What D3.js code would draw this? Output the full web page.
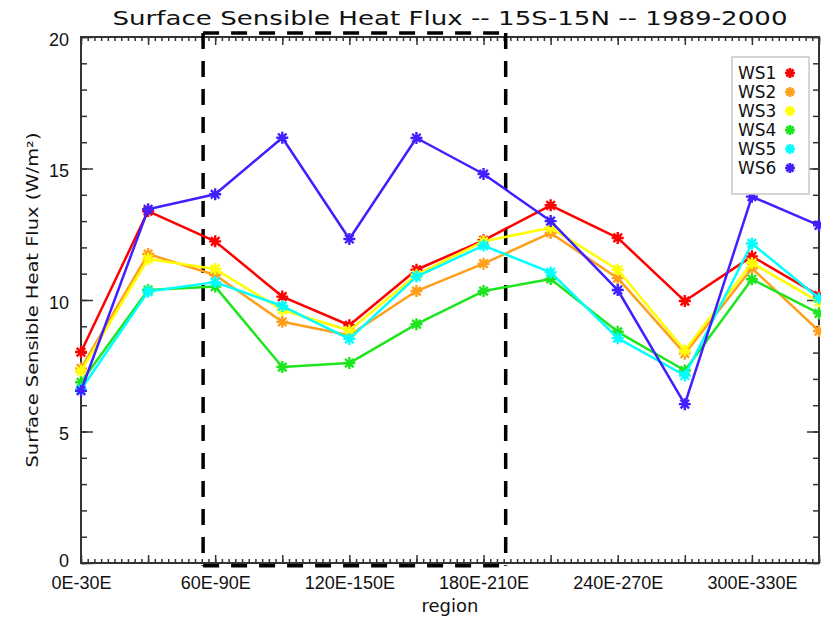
<!DOCTYPE html>
<html>
<head>
<meta charset="utf-8">
<script src="https://cdn.jsdelivr.net/npm/d3@7"></script>
<style>
  html, body { margin: 0; padding: 0; background: #fff; }
  svg { display: block; font-family: "DejaVu Sans", sans-serif; }
</style>
</head>
<body>
<svg id="chart" width="821" height="619"></svg>
<script>
// Regions along the equatorial band (30-degree longitude bins)
const regions = ["0E-30E", "30E-60E", "60E-90E", "90E-120E", "120E-150E", "150E-180E",
                 "180E-210E", "210E-240E", "240E-270E", "270E-300E", "300E-330E", "330E-360E"];
const seriesNames = ["WS1", "WS2", "WS3", "WS4", "WS5", "WS6"];
const seriesColors = ["#ff0000", "#ff9f1a", "#ffff00", "#1ee61e", "#00ffff", "#4020ff"];

// Surface sensible heat flux (W/m^2), one value per region
const ws1 = [8.02, 13.38, 12.23, 10.13, 9.04, 11.15, 12.27, 13.60, 12.36, 9.96, 11.66, 10.17];
const ws2 = [7.40, 11.75, 10.95, 9.17, 8.66, 10.34, 11.38, 12.55, 10.83, 7.96, 11.21, 8.82];
const ws3 = [7.30, 11.56, 11.18, 9.62, 8.84, 10.96, 12.23, 12.75, 11.15, 8.08, 11.41, 9.93];
const ws4 = [6.87, 10.38, 10.51, 7.45, 7.60, 9.08, 10.34, 10.80, 8.79, 7.32, 10.79, 9.49];
const ws5 = [6.60, 10.32, 10.68, 9.77, 8.52, 10.89, 12.07, 11.05, 8.55, 7.13, 12.15, 10.07];
const ws6 = [6.55, 13.45, 14.02, 16.17, 12.32, 16.16, 14.79, 13.00, 10.38, 6.04, 13.93, 12.84];
const seriesValues = [ws1, ws2, ws3, ws4, ws5, ws6];

// Y axis ticks
const yMajorTicks = [0, 5, 10, 15, 20];
const yMinorTicks = d3.range(0, 21, 1);

// Highlighted box (in region-index and flux units)
const boxX = [1.82, 6.33];
const boxY = [-0.1, 20.15];

const svg = d3.select("#chart");
const plotLeft = 81, plotRight = 819, plotTop = 37, plotBottom = 563;

const x = d3.scaleLinear().domain([0, regions.length - 1]).range([plotLeft, plotRight]);
const y = d3.scaleLinear().domain([0, 20]).range([plotBottom, plotTop]);

const axisColor = "#333";

// --- axes -------------------------------------------------------------
const xMinor = d3.range(0, regions.length - 1 + 1e-9, 0.1);

function styleAxis(g) {
  g.selectAll(".domain").remove();
  g.selectAll("line").attr("stroke", axisColor).attr("stroke-width", 1.5);
  g.selectAll("text").attr("fill", "#111");
}

// bottom minor + major
svg.append("g").attr("transform", `translate(0,${plotBottom})`)
  .call(d3.axisBottom(x).tickValues(xMinor).tickSize(-4).tickFormat(""))
  .call(styleAxis);
svg.append("g").attr("transform", `translate(0,${plotBottom})`)
  .call(d3.axisBottom(x).tickValues(d3.range(regions.length)).tickSize(-8)
        .tickPadding(11).tickFormat(i => i % 2 === 0 ? regions[i] : ""))
  .call(styleAxis)
  .selectAll("text").attr("font-size", 18).attr("dy", "0.85em");

// top minor + major
svg.append("g").attr("transform", `translate(0,${plotTop})`)
  .call(d3.axisTop(x).tickValues(xMinor).tickSize(-4).tickFormat(""))
  .call(styleAxis);
svg.append("g").attr("transform", `translate(0,${plotTop})`)
  .call(d3.axisTop(x).tickValues(d3.range(regions.length)).tickSize(-8).tickFormat(""))
  .call(styleAxis);

// left
svg.append("g").attr("transform", `translate(${plotLeft},0)`)
  .call(d3.axisLeft(y).tickValues(yMinorTicks).tickSize(-6).tickFormat(""))
  .call(styleAxis);
svg.append("g").attr("transform", `translate(${plotLeft},0)`)
  .call(d3.axisLeft(y).tickValues(yMajorTicks).tickSize(-12).tickPadding(12).tickFormat(d3.format("d")))
  .call(styleAxis)
  .selectAll("text").attr("font-size", 18).attr("dy", d => d === 0 ? "0.2em" : "0.45em");

// right
svg.append("g").attr("transform", `translate(${plotRight},0)`)
  .call(d3.axisRight(y).tickValues(yMinorTicks).tickSize(-6).tickFormat(""))
  .call(styleAxis);
svg.append("g").attr("transform", `translate(${plotRight},0)`)
  .call(d3.axisRight(y).tickValues(yMajorTicks).tickSize(-12).tickFormat(""))
  .call(styleAxis);

// frame
svg.append("rect")
  .attr("x", plotLeft).attr("y", plotTop)
  .attr("width", plotRight - plotLeft).attr("height", plotBottom - plotTop)
  .attr("fill", "none").attr("stroke", axisColor).attr("stroke-width", 2);

// --- dashed box -------------------------------------------------------
const dash = "16,12";
const bx0 = x(boxX[0]), bx1 = x(boxX[1]), by0 = y(boxY[1]), by1 = y(boxY[0]);
svg.append("g").attr("stroke", "#000").attr("fill", "none")
  .selectAll("line")
  .data([
    [bx0, by0, bx0, by1, 3.5],
    [bx1, by0, bx1, by1, 3.5],
    [bx0, by0, bx1, by0, 3.5],
    [bx0, by1, bx1, by1, 3.5]
  ])
  .join("line")
  .attr("x1", d => d[0]).attr("y1", d => d[1])
  .attr("x2", d => d[2]).attr("y2", d => d[3])
  .attr("stroke-width", d => d[4])
  .attr("stroke-dasharray", dash);

// --- series -----------------------------------------------------------
function asterisk(r) {
  const d = r * Math.SQRT1_2;
  return `M${-r},0L${r},0M0,${-r}L0,${r}M${-d},${-d}L${d},${d}M${-d},${d}L${d},${-d}`;
}

const line = d3.line().x((d, i) => x(i)).y(d => y(d));

seriesValues.forEach((vals, k) => {
  const g = svg.append("g");
  g.append("path").datum(vals)
    .attr("d", line)
    .attr("fill", "none")
    .attr("stroke", seriesColors[k])
    .attr("stroke-width", 2.5)
    .attr("stroke-linejoin", "round");
  g.selectAll("path.mark").data(vals).join("path")
    .attr("class", "mark")
    .attr("transform", (d, i) => `translate(${x(i)},${y(d)})`)
    .attr("d", asterisk(6))
    .attr("stroke", seriesColors[k])
    .attr("stroke-width", 2.4)
    .attr("fill", "none");
});

// --- legend -----------------------------------------------------------
const legend = svg.append("g");
legend.append("rect")
  .attr("x", 732).attr("y", 57).attr("width", 77).attr("height", 137)
  .attr("fill", "#fff").attr("stroke", "#c8c8c8").attr("stroke-width", 1.5);
seriesNames.forEach((name, k) => {
  const cy = 73 + k * 19;
  legend.append("text")
    .attr("x", 738).attr("y", cy).attr("dy", "0.36em")
    .attr("font-size", 17).attr("fill", "#111")
    .text(name);
  legend.append("path")
    .attr("transform", `translate(790,${cy})`)
    .attr("d", asterisk(5))
    .attr("stroke", seriesColors[k]).attr("stroke-width", 2.6).attr("fill", "none");
});

// --- titles -----------------------------------------------------------
svg.append("text")
  .attr("x", (plotLeft + plotRight) / 2).attr("y", 25)
  .attr("text-anchor", "middle").attr("font-size", 20).attr("fill", "#111")
  .attr("textLength", 675).attr("lengthAdjust", "spacingAndGlyphs")
  .text("Surface Sensible Heat Flux -- 15S-15N -- 1989-2000");

svg.append("text")
  .attr("transform", `translate(38,${(plotTop + plotBottom) / 2}) rotate(-90)`)
  .attr("text-anchor", "middle").attr("font-size", 16).attr("fill", "#111")
  .attr("textLength", 335).attr("lengthAdjust", "spacingAndGlyphs")
  .text("Surface Sensible Heat Flux (W/m²)");

svg.append("text")
  .attr("x", (plotLeft + plotRight) / 2).attr("y", 612)
  .attr("text-anchor", "middle").attr("font-size", 18).attr("fill", "#111")
  .text("region");
</script>
</body>
</html>
